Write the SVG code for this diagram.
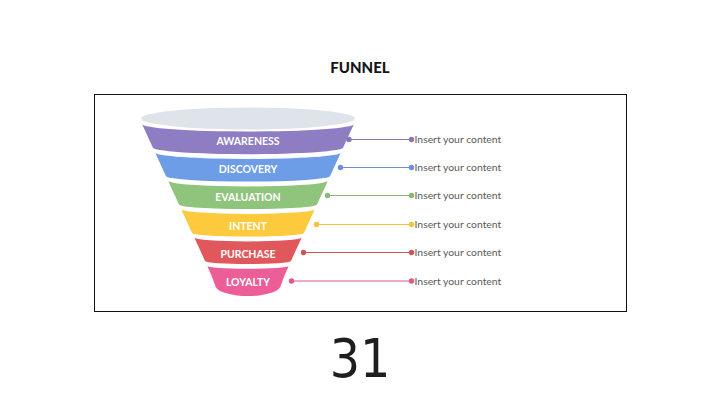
<svg xmlns="http://www.w3.org/2000/svg" width="720" height="405" viewBox="0 0 720 405">
<style>
.lbl{font-family:Lato,"Open Sans","Liberation Sans",sans-serif;font-weight:bold;font-size:10.5px;fill:#ffffff;text-anchor:middle}
.txt{font-family:Lato,"Open Sans","Liberation Sans",sans-serif;font-size:10.4px;fill:#5a5a5a}
.ttl{font-family:Lato,"Open Sans","Liberation Sans",sans-serif;font-weight:900;font-size:15px;fill:#161616;text-anchor:middle}
.num{font-family:"DejaVu Sans Condensed","DejaVu Sans",sans-serif;font-stretch:condensed;font-size:53px;fill:#1e1e1e;text-anchor:middle}
.ln{stroke-width:1;fill:none}
</style>
<rect width="720" height="405" fill="#ffffff"/>
<text class="ttl" x="360" y="72.5">FUNNEL</text>
<rect x="94.5" y="94.5" width="532" height="217" fill="none" stroke="#111111" stroke-width="1"/>
<ellipse id="funnel-top" cx="248" cy="118.5" rx="107" ry="11" fill="#dfe3ea"/>
<g id="awareness">
<path d="M142,124 A106,7.5 0 0 0 354,124 L343.2,147.5 A95.2,6.7 0 0 1 152.8,147.5 Z" fill="#8e7dc3"/>
<text class="lbl" x="248" y="145">AWARENESS</text>
</g>
<g id="discovery">
<path d="M155.1,152.4 A92.9,6.5 0 0 0 340.9,152.4 L330.1,175.9 A82.1,5.7 0 0 1 165.9,175.9 Z" fill="#6c9de6"/>
<text class="lbl" x="248" y="173">DISCOVERY</text>
</g>
<g id="evaluation">
<path d="M168.1,180.8 A79.9,5.6 0 0 0 327.9,180.8 L317.1,204.3 A69.1,4.8 0 0 1 178.9,204.3 Z" fill="#8fc47c"/>
<text class="lbl" x="248" y="201">EVALUATION</text>
</g>
<g id="intent">
<path d="M181.2,209.2 A66.8,4.7 0 0 0 314.8,209.2 L304,232.7 A56,3.9 0 0 1 192,232.7 Z" fill="#fcca3c"/>
<text class="lbl" x="248" y="229.5">INTENT</text>
</g>
<g id="purchase">
<path d="M194.3,237.6 A53.7,3.8 0 0 0 301.7,237.6 L290.9,261.1 A42.9,3 0 0 1 205.1,261.1 Z" fill="#e0585b"/>
<text class="lbl" x="248" y="258">PURCHASE</text>
</g>
<g id="loyalty">
<path d="M207.3,266 A40.7,2.8 0 0 0 288.7,266 Q284,276 281,285 A33,11 0 0 1 215,285 Q212,276 207.3,266 Z" fill="#ec5e97"/>
<text class="lbl" x="248" y="286">LOYALTY</text>
</g>
<g id="connectors">
<line class="ln" x1="349" y1="139.5" x2="411.5" y2="139.5" stroke="#8577b8"/>
<circle cx="349" cy="139.5" r="2.7" fill="#8577b8"/>
<circle cx="411.5" cy="139.5" r="2.7" fill="#8577b8"/>
<line class="ln" x1="340.5" y1="167.5" x2="411.5" y2="167.5" stroke="#6a93d6"/>
<circle cx="340.5" cy="167.5" r="2.7" fill="#6a93d6"/>
<circle cx="411.5" cy="167.5" r="2.7" fill="#6a93d6"/>
<line class="ln" x1="327.5" y1="195.5" x2="411.5" y2="195.5" stroke="#88b977"/>
<circle cx="327.5" cy="195.5" r="2.7" fill="#88b977"/>
<circle cx="411.5" cy="195.5" r="2.7" fill="#88b977"/>
<line class="ln" x1="316.5" y1="224.5" x2="411.5" y2="224.5" stroke="#f3c43e"/>
<circle cx="316.5" cy="224.5" r="2.7" fill="#f3c43e"/>
<circle cx="411.5" cy="224.5" r="2.7" fill="#f3c43e"/>
<line class="ln" x1="303.5" y1="252.5" x2="411.5" y2="252.5" stroke="#cf5459"/>
<circle cx="303.5" cy="252.5" r="2.7" fill="#cf5459"/>
<circle cx="411.5" cy="252.5" r="2.7" fill="#cf5459"/>
<line class="ln" x1="291.5" y1="281" x2="411.5" y2="281" stroke="#dc5a8c"/>
<circle cx="291.5" cy="281" r="2.7" fill="#dc5a8c"/>
<circle cx="411.5" cy="281" r="2.7" fill="#dc5a8c"/>
</g>
<g id="contents">
<text class="txt" x="414.5" y="143.3">Insert your content</text>
<text class="txt" x="414.5" y="171.3">Insert your content</text>
<text class="txt" x="414.5" y="199.3">Insert your content</text>
<text class="txt" x="414.5" y="228.3">Insert your content</text>
<text class="txt" x="414.5" y="256.3">Insert your content</text>
<text class="txt" x="414.5" y="284.8">Insert your content</text>
</g>
<text class="num" x="360" y="377">31</text>
</svg>
